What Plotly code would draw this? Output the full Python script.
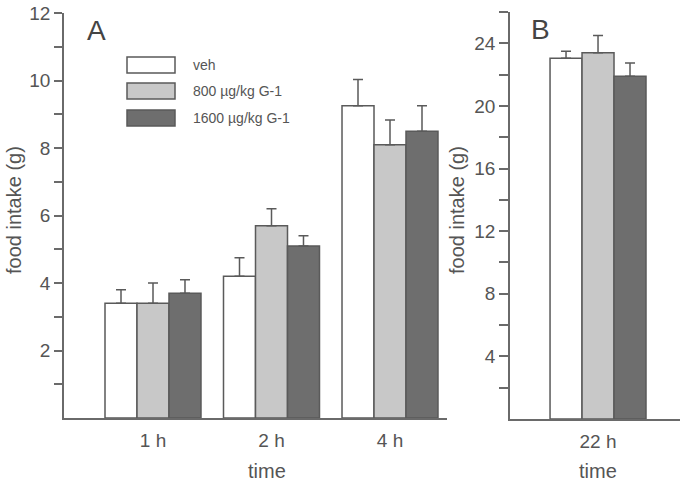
import plotly.graph_objects as go

# ---- data ----
series_names = ["veh", "800 µg/kg G-1", "1600 µg/kg G-1"]
series_colors = ["#ffffff", "#c8c8c8", "#6e6e6e"]

cats_a = ["1 h", "2 h", "4 h"]
veh_a = [3.4, 4.2, 9.25]
veh_a_err = [0.4, 0.55, 0.78]
g800_a = [3.4, 5.7, 8.1]
g800_a_err = [0.6, 0.5, 0.73]
g1600_a = [3.7, 5.1, 8.5]
g1600_a_err = [0.4, 0.3, 0.75]

cats_b = ["22 h"]
veh_b = [23.05]
veh_b_err = [0.45]
g800_b = [23.4]
g800_b_err = [1.1]
g1600_b = [21.9]
g1600_b_err = [0.85]

ticks_a = list(range(1, 13))
ticks_b = list(range(2, 27, 2))

W, H = 682, 482
FONT = "Liberation Sans, Arial, sans-serif"
TXT = "#555555"
LINE = "#5a5a5a"


def px(x):
    return x / W


def py(y):
    return 1 - y / H


fig = go.Figure()

vals_a = [(veh_a, veh_a_err), (g800_a, g800_a_err), (g1600_a, g1600_a_err)]
vals_b = [(veh_b, veh_b_err), (g800_b, g800_b_err), (g1600_b, g1600_b_err)]

for i, name in enumerate(series_names):
    for cats, (v, e), xa, ya in [(cats_a, vals_a[i], "x", "y"), (cats_b, vals_b[i], "x2", "y2")]:
        fig.add_trace(go.Bar(
            x=cats, y=v, name=name, xaxis=xa, yaxis=ya,
            offsetgroup=str(i), showlegend=False,
            marker=dict(color=series_colors[i], line=dict(color=LINE, width=1.5)),
            error_y=dict(type="data", symmetric=False, array=e,
                         arrayminus=[0] * len(e), color=LINE,
                         thickness=1.5, width=5),
        ))

axis_common = dict(showline=True, linecolor="#6a6a6a", linewidth=1.5,
                   showgrid=False, zeroline=False, automargin=False,
                   tickfont=dict(family=FONT, size=19, color=TXT))

fig.update_layout(
    width=W, height=H,
    margin=dict(l=0, r=0, t=0, b=0, autoexpand=False),
    paper_bgcolor="white", plot_bgcolor="white",
    barmode="group", bargap=0.19, bargroupgap=0,
    font=dict(family=FONT, color=TXT),
    xaxis=dict(domain=[px(64), px(447)], range=[-0.751, 2.481],
               type="category", ticks="", ticklabelstandoff=4,
               anchor="y", **axis_common),
    yaxis=dict(domain=[py(418), py(13)], range=[0, 12],
               tickmode="array", tickvals=ticks_a,
               ticktext=[str(t) if t % 2 == 0 else "" for t in ticks_a],
               ticks="outside", ticklen=8, tickwidth=1.5, tickcolor="#6a6a6a",
               anchor="x", **axis_common),
    xaxis2=dict(domain=[px(510), px(680)], range=[-0.743, 0.692],
                type="category", ticks="", ticklabelstandoff=4,
                anchor="y2", **axis_common),
    yaxis2=dict(domain=[py(419), py(12)], range=[0, 26],
                tickmode="array", tickvals=ticks_b,
                ticktext=[str(t) if t % 4 == 0 and t < 26 else "" for t in ticks_b],
                ticks="outside", ticklen=9, tickwidth=1.5, tickcolor="#6a6a6a",
                anchor="x2", **axis_common),
)

ann = []
# panel letters
ann.append(dict(text="A", x=px(85), y=py(30), xanchor="left", yanchor="middle",
                font=dict(size=28, color="#444444", family=FONT)))
ann.append(dict(text="B", x=px(529), y=py(29), xanchor="left", yanchor="middle",
                font=dict(size=28, color="#444444", family=FONT)))
# axis titles
for xc in (14, 457):
    ann.append(dict(text="food intake (g)", x=px(xc), y=py(210), textangle=-90,
                    xanchor="center", yanchor="middle",
                    font=dict(size=20, color=TXT, family=FONT)))
for xc in (267, 598):
    ann.append(dict(text="time", x=px(xc), y=py(471), xanchor="center", yanchor="middle",
                    font=dict(size=20, color=TXT, family=FONT)))

# custom legend (wide boxes like the reference)
shapes = []
row_y = [65, 91, 118]
for i, name in enumerate(series_names):
    yc = row_y[i]
    shapes.append(dict(type="rect", xref="paper", yref="paper",
                       x0=px(127), x1=px(175), y0=py(yc + 8), y1=py(yc - 8),
                       fillcolor=series_colors[i], line=dict(color=LINE, width=1.5)))
    ann.append(dict(text=name, x=px(191), y=py(yc), xanchor="left", yanchor="middle",
                    font=dict(size=14, color=TXT, family=FONT)))

for a in ann:
    a.update(xref="paper", yref="paper", showarrow=False)

fig.update_layout(annotations=ann, shapes=shapes)

fig.write_html("out.html",
               config={"displayModeBar": False},
               post_script="document.body.style.margin='0';document.body.style.overflow='hidden';")
